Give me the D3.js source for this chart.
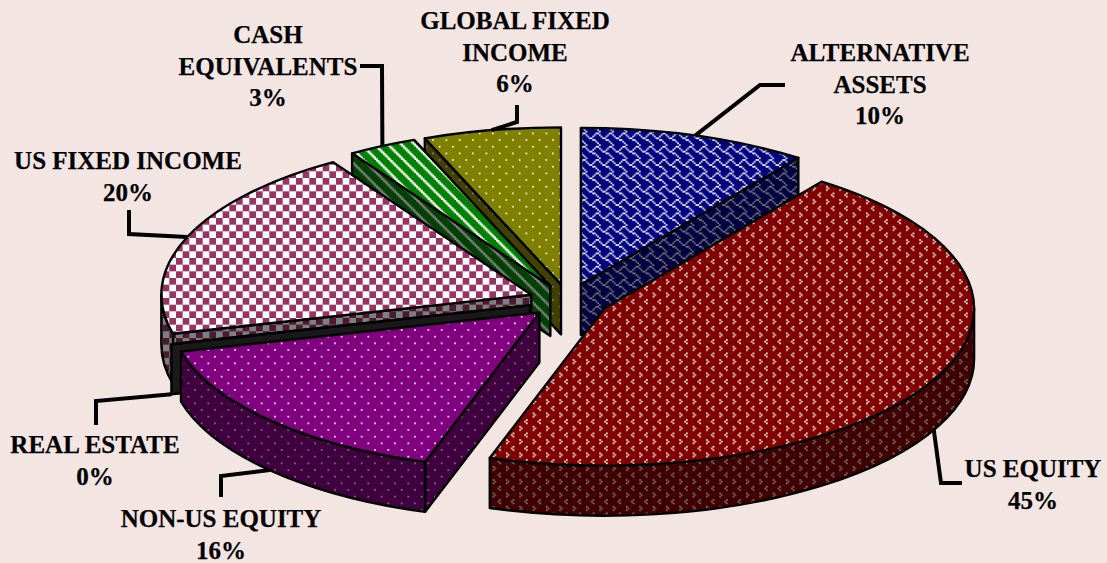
<!DOCTYPE html>
<html>
<head>
<meta charset="utf-8">
<style>
html,body{margin:0;padding:0;background:#f3e5e2;}
svg{display:block;}
text{font-family:"Liberation Serif","Times New Roman",serif;font-weight:700;font-size:25px;fill:#000;stroke:#000;stroke-width:0.25px;text-anchor:middle;}
</style>
<script src="https://cdn.jsdelivr.net/npm/d3@7"></script>
</head>
<body>
<script>
// Allocation by asset class, clockwise from twelve o'clock.
const categories = ["ALTERNATIVE ASSETS","US EQUITY","NON-US EQUITY","REAL ESTATE","US FIXED INCOME","CASH EQUIVALENTS","GLOBAL FIXED INCOME"];
const percents   = [10,45,16,0,20,3,6];
const labelLines = [["ALTERNATIVE","ASSETS"],["US EQUITY"],["NON-US EQUITY"],["REAL ESTATE"],["US FIXED INCOME"],["CASH","EQUIVALENTS"],["GLOBAL FIXED","INCOME"]];
const baseColors = ["#000080","#800000","#800080","#333333","#993366","#008000","#808000"];

// 8x8 hatch bitmaps, one byte per row.
const hatches = {
  shingle:[0x03,0x84,0x48,0x30,0x0C,0x02,0x01,0x80],
  divot:[0x80,0x40,0x80,0x00,0x08,0x10,0x08,0x00],
  dots:[0x80,0x00,0x00,0x00,0x08,0x00,0x00,0x00],
  checker:[0xF0,0xF0,0xF0,0xF0,0x0F,0x0F,0x0F,0x0F],
  diagonal:[0xC0,0x60,0x30,0x18,0x0C,0x06,0x03,0x81],
  none:[0,0,0,0,0,0,0,0]
};
const sliceHatch = ["shingle","divot","dots","none","checker","diagonal","dots"];
// Where each hatch tile starts on the page.
const hatchOrigin = [[-1,-0.8],[-0.7,-0.8],[0.8,-4.2],[0,0],[2.67,-2],[2.8,0],[-1.2,-0.8]];

const W = 1107, H = 563;
const CX = 568.5, CY = 301, RX = 370, RY = 157, DEPTH = 50, EXPLODE = 0.108;
const CELL = 13.333 / 8;

// The tilted disc: unit coordinates mapped onto the screen ellipse.
const xDisc = d3.scaleLinear().domain([-1,1]).range([CX-RX,CX+RX]);
const yDisc = d3.scaleLinear().domain([-1,1]).range([CY-RY,CY+RY]);

const svg = d3.select("body").append("svg").attr("width",W).attr("height",H);
svg.append("rect").attr("width",W).attr("height",H).attr("fill","#f3e5e2");

const defs = svg.append("defs");
const patternId = i => "hatch-" + i;
baseColors.forEach((color,i) => {
  const p = defs.append("pattern").attr("id",patternId(i))
    .attr("patternUnits","userSpaceOnUse").attr("width",CELL*8).attr("height",CELL*8)
    .attr("patternTransform",`translate(${hatchOrigin[i]})`);
  p.append("rect").attr("width",CELL*8).attr("height",CELL*8).attr("fill",color);
  // All set bits go into one path, so neighbouring cells leave no seams.
  const marks = d3.path();
  hatches[sliceHatch[i]].forEach((bits,row) => {
    d3.range(8).forEach(col => {
      if (bits & (0x80 >> col)) marks.rect(col*CELL,row*CELL,CELL,CELL);
    });
  });
  p.append("path").attr("d",marks.toString()).attr("fill","#fff");
});

const pie = d3.pie().sort(null).startAngle(0).endAngle(2*Math.PI);
const slices = pie(percents).map((d,i) => {
  const mid = (d.startAngle+d.endAngle)/2;
  const ux = EXPLODE*Math.sin(mid), uy = -EXPLODE*Math.cos(mid);
  const pt = (a,drop=0) => [xDisc(ux+Math.sin(a)), yDisc(uy-Math.cos(a))+drop];
  return {...d, i, mid, pt, apex:drop => [xDisc(ux), yDisc(uy)+drop]};
});

const arcTo = (p,a0,a1,sweep) =>
  `A${RX},${RY} 0 ${Math.abs(a1-a0)>Math.PI?1:0} ${sweep} ${p[0]},${p[1]}`;

function topPath(s){
  const a=s.apex(0), p0=s.pt(s.startAngle), p1=s.pt(s.endAngle);
  return `M${a}L${p0}${arcTo(p1,s.startAngle,s.endAngle,1)}Z`;
}
function radialWall(s,angle){
  const a=s.apex(0), b=s.pt(angle), c=s.pt(angle,DEPTH), d=s.apex(DEPTH);
  return `M${a}L${b}L${c}L${d}Z`;
}
function rimWall(s){
  const a0=Math.max(s.startAngle,Math.PI/2), a1=Math.min(s.endAngle,3*Math.PI/2);
  if (a1<=a0) return null;
  const p0=s.pt(a0), p1=s.pt(a1), q1=s.pt(a1,DEPTH), q0=s.pt(a0,DEPTH);
  return `M${p0}${arcTo(p1,a0,a1,1)}L${q1}${arcTo(q0,a1,a0,0)}Z`;
}

// Faces are painted back to front.
const paintOrder = [0,6,5,4,3,2,1];
const wallsAndTops = svg.append("g").attr("stroke","#000").attr("stroke-width",2.4).attr("stroke-linejoin","round");

function face(pathD,i,shaded){
  wallsAndTops.append("path").attr("d",pathD).attr("fill",`url(#${patternId(i)})`).attr("stroke","none");
  wallsAndTops.append("path").attr("d",pathD).attr("fill",shaded?"rgba(0,0,0,0.5)":"none");
}
paintOrder.forEach(i => {
  const s = slices[i];
  if (Math.sin(s.startAngle) < -1e-6) face(radialWall(s,s.startAngle),i,true);
  if (Math.sin(s.endAngle) > 1e-6) face(radialWall(s,s.endAngle),i,true);
  const rim = rimWall(s);
  if (rim) face(rim,i,true);
  face(topPath(s),i,false);
});

// Callouts: each leader leaves its slice at the mid-angle of the rim.
const calloutAnchors = [
  {x:880,y:53,elbows:[[760,85],[785,85]]},
  {x:1033,y:469,elbows:[[941,483],[962,483]]},
  {x:221,y:519,elbows:[[221,476],[221,497]]},
  {x:95,y:445,elbows:[[96,401],[96,425]]},
  {x:128,y:161,elbows:[[129,234],[129,210]]},
  {x:268,y:35,elbows:[[382,66],[360,66]]},
  {x:515,y:21,elbows:[[517,122],[517,105]]}
];
const LINE_STEP = 31.3;
const leader = d3.line();
calloutAnchors.forEach((c,i) => {
  const s = slices[i];
  const front = Math.cos(s.mid) < 0;
  const start = s.pt(s.mid, front ? DEPTH : 0);
  svg.append("path").attr("d",leader([start,...c.elbows]))
    .attr("fill","none").attr("stroke","#000").attr("stroke-width",4).attr("stroke-linejoin","miter");
  const lines = [...labelLines[i], percents[i]+"%"];
  lines.forEach((t,k) => {
    svg.append("text").attr("x",c.x).attr("y",c.y+k*LINE_STEP).attr("dy","0.33em").text(t);
  });
});
</script>
</body>
</html>
